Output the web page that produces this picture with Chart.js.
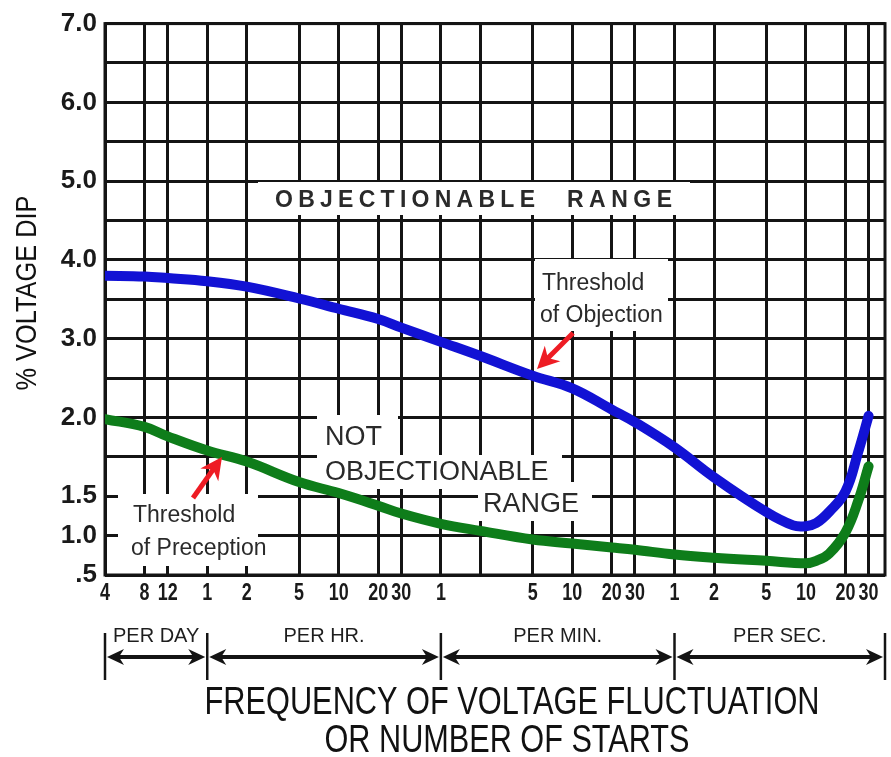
<!DOCTYPE html>
<html>
<head>
<meta charset="utf-8">
<script src="https://cdn.jsdelivr.net/npm/chart.js@4.4.0/dist/chart.umd.min.js"></script>
<style>
html,body{margin:0;padding:0;background:#fff;}
canvas{display:block;}
</style>
</head>
<body>
<canvas id="chart" width="891" height="757"></canvas>
<script>
// x values are starts per hour (4 per day = 1/6 per hour ... 30 per second = 108000 per hour)
const freqTicks = [1/6, 1/3, 0.5, 1, 2, 5, 10, 20, 30, 60, 120, 300, 600, 1200, 1800, 3600, 7200, 18000, 36000, 72000, 108000];
const freqLabels = ["4", "8", "12", "1", "2", "5", "10", "20", "30", "1", "", "5", "10", "20", "30", "1", "2", "5", "10", "20", "30"];
const periodNames = ["PER DAY", "PER HR.", "PER MIN.", "PER SEC."];
const periodBounds = [1/6, 1, 60, 3600, 144000];

const dipTicks = [0.5, 1.0, 1.5, 1.75, 2.0, 2.5, 3.0, 3.5, 4.0, 4.5, 5.0, 5.5, 6.0, 6.5, 7.0];
const dipLabels = [".5", "1.0", "1.5", "", "2.0", "", "3.0", "", "4.0", "", "5.0", "", "6.0", "", "7.0"];

// threshold of objection (blue)
const objectionX = [1/6, 1/3, 0.5, 1, 2, 5, 10, 20, 30, 60, 120, 300, 600, 1200, 1800, 3600, 7200, 18000, 28800, 36000, 43200, 54000, 72000, 90000, 108000];
const objectionY = [3.80, 3.79, 3.77, 3.73, 3.66, 3.51, 3.38, 3.25, 3.14, 2.96, 2.78, 2.53, 2.37, 2.10, 1.97, 1.81, 1.62, 1.30, 1.13, 1.12, 1.16, 1.30, 1.53, 1.78, 2.02];

// threshold of perception (green)
const perceptionX = [1/6, 1/3, 0.5, 1, 2, 5, 10, 20, 30, 60, 120, 300, 600, 1200, 1800, 3600, 7200, 18000, 36000, 43200, 54000, 72000, 90000, 108000];
const perceptionY = [1.99, 1.94, 1.88, 1.79, 1.72, 1.59, 1.52, 1.38, 1.28, 1.15, 1.06, 0.95, 0.90, 0.85, 0.82, 0.76, 0.72, 0.68, 0.65, 0.68, 0.77, 1.04, 1.44, 1.69];

const FONT = "'Liberation Sans', Arial, sans-serif";

// the % axis is stretched: .5 -> 1.5 at one grid step per 0.5, 1.5 -> 2.0 at two steps, then one step per 0.5
const dipBreaks = [0.5, 1.0, 1.5, 2.0, 7.0];
const gridBreaks = [0, 1, 2, 4, 14];
function mapPiece(v, from, to) {
  let i = 1;
  while (i < from.length - 1 && v > from[i]) i++;
  const t = (v - from[i - 1]) / (from[i] - from[i - 1]);
  return to[i - 1] + t * (to[i] - to[i - 1]);
}
const dipToGrid = v => mapPiece(v, dipBreaks, gridBreaks);
const gridToDip = g => mapPiece(g, gridBreaks, dipBreaks);

class DipScale extends Chart.LinearScale {
  buildTicks() { return dipTicks.map(v => ({value: v})); }
  getPixelForValue(v) {
    const lo = dipToGrid(this.min), hi = dipToGrid(this.max);
    return this.getPixelForDecimal((dipToGrid(v) - lo) / (hi - lo));
  }
  getValueForPixel(p) {
    const lo = dipToGrid(this.min), hi = dipToGrid(this.max);
    return gridToDip(lo + this.getDecimalForPixel(p) * (hi - lo));
  }
}
DipScale.id = "dip";
Chart.register(DipScale);

function text(ctx, str, x, y, size, o = {}) {
  ctx.save();
  ctx.font = (o.weight || "normal") + " " + size + "px " + FONT;
  ctx.fillStyle = o.color || "#2a2a2a";
  ctx.textAlign = "left";
  ctx.textBaseline = o.baseline || "alphabetic";
  const w = ctx.measureText(str).width;
  const sx = o.width ? o.width / w : (o.sx || 1);
  ctx.translate(x, y);
  if (o.rotate) ctx.rotate(o.rotate);
  ctx.scale(sx, 1);
  const left = o.align === "center" ? -w / 2 : 0;
  ctx.fillText(str, left, 0);
  ctx.restore();
}

function spaced(ctx, str, x0, x1, y, size, weight) {
  ctx.save();
  ctx.font = weight + " " + size + "px " + FONT;
  ctx.fillStyle = "#2a2a2a";
  const ws = [...str].map(c => ctx.measureText(c).width);
  const total = ws.reduce((a, b) => a + b, 0);
  const gap = (x1 - x0 - total) / (str.length - 1);
  let x = x0;
  [...str].forEach((c, i) => { ctx.fillText(c, x, y); x += ws[i] + gap; });
  ctx.restore();
}

function arrowHead(ctx, tx, ty, ang, len, half) {
  ctx.save();
  ctx.translate(tx, ty);
  ctx.rotate(ang);
  ctx.beginPath();
  ctx.moveTo(0, 0);
  ctx.lineTo(len, -half);
  ctx.lineTo(len * 0.7, 0);
  ctx.lineTo(len, half);
  ctx.closePath();
  ctx.fill();
  ctx.restore();
}

function pointer(ctx, x0, y0, x1, y1) {
  const ang = Math.atan2(y0 - y1, x0 - x1);
  ctx.save();
  ctx.strokeStyle = ctx.fillStyle = "#ee1c24";
  ctx.lineWidth = 5;
  ctx.beginPath();
  ctx.moveTo(x0, y0);
  ctx.lineTo(x1 + Math.cos(ang) * 12, y1 + Math.sin(ang) * 12);
  ctx.stroke();
  arrowHead(ctx, x1, y1, ang, 22, 11);
  ctx.restore();
}

const decorations = {
  id: "decorations",
  beforeDatasetsDraw(chart) {
    const ctx = chart.ctx;
    const a = chart.chartArea;
    ctx.save();
    ctx.fillStyle = "#fff";
    [[258, 182, 432, 33], [535, 259, 133, 72],
     [317, 415, 81, 74], [317, 455, 245, 34], [478, 482, 114, 39],
     [118, 494, 140, 72], [118, 537, 172, 29]].forEach(r => ctx.fillRect(r[0], r[1], r[2], r[3]));
    ctx.restore();

    spaced(ctx, "OBJECTIONABLE", 275, 535, 207, 23, "bold");
    spaced(ctx, "RANGE", 567, 672, 207, 23, "bold");
    text(ctx, "Threshold", 542, 290, 23);
    text(ctx, "of Objection", 540, 322, 23);
    text(ctx, "NOT", 325, 445, 27);
    text(ctx, "OBJECTIONABLE", 325, 480, 27);
    text(ctx, "RANGE", 483, 512, 27);
    text(ctx, "Threshold", 133, 522, 23);
    text(ctx, "of Preception", 131, 555, 23);

    ctx.save();
    ctx.strokeStyle = "#141414";
    ctx.lineWidth = 3;
    ctx.strokeRect(a.left, a.top, a.right - a.left, a.bottom - a.top);
    ctx.restore();
  },
  afterDatasetsDraw(chart) {
    const ctx = chart.ctx;
    pointer(ctx, 573, 333, 537, 369);
    pointer(ctx, 193, 498, 222, 457);
  },
  afterDraw(chart) {
    const ctx = chart.ctx;
    const x = chart.scales.x;

    // frequency tick labels, condensed like the original lettering
    x.ticks.forEach((t, i) => {
      text(ctx, freqLabels[i], x.getPixelForTick(i), 600, 23, {align: "center", weight: "bold", sx: 0.78, color: "#1a1a1a"});
    });

    const b = periodBounds.map(v => x.getPixelForValue(v));
    const ya = 657;
    ctx.save();
    ctx.strokeStyle = ctx.fillStyle = "#141414";
    ctx.lineWidth = 2.5;
    b.forEach(px => { ctx.beginPath(); ctx.moveTo(px, 633); ctx.lineTo(px, 680); ctx.stroke(); });
    ctx.lineWidth = 4;
    for (let i = 0; i < periodNames.length; i++) {
      const l = b[i] + 2, r = b[i + 1] - 2;
      ctx.beginPath(); ctx.moveTo(l + 8, ya); ctx.lineTo(r - 8, ya); ctx.stroke();
      arrowHead(ctx, l, ya, 0, 17, 8);
      arrowHead(ctx, r, ya, Math.PI, 17, 8);
      text(ctx, periodNames[i], (b[i] + b[i + 1]) / 2, 642, 20, {align: "center", color: "#1e1e1e"});
    }
    ctx.restore();

    text(ctx, "FREQUENCY OF VOLTAGE FLUCTUATION", 512, 714, 38, {align: "center", width: 615, color: "#111"});
    text(ctx, "OR NUMBER OF STARTS", 507, 752, 38, {align: "center", width: 365, color: "#111"});
    text(ctx, "% VOLTAGE DIP", 28, 293, 30, {align: "center", width: 195, baseline: "middle", rotate: -Math.PI / 2, color: "#111"});
  }
};

const gridStyle = {color: "#141414", lineWidth: 3, drawTicks: false};

new Chart(document.getElementById("chart"), {
  type: "line",
  data: {
    datasets: [
      {
        label: "Threshold of Perception",
        data: perceptionX.map((v, i) => ({x: v, y: perceptionY[i]})),
        borderColor: "#0e7d1a",
        borderWidth: 10,
        clip: 0
      },
      {
        label: "Threshold of Objection",
        data: objectionX.map((v, i) => ({x: v, y: objectionY[i]})),
        borderColor: "#1212d4",
        borderWidth: 10,
        clip: 0
      }
    ]
  },
  options: {
    responsive: false,
    animation: false,
    events: [],
    layout: {padding: {top: 20, right: 6, left: 0, bottom: 0}},
    elements: {
      point: {radius: 0},
      line: {tension: 0.4, borderCapStyle: "round", borderJoinStyle: "round"}
    },
    plugins: {legend: {display: false}, tooltip: {enabled: false}},
    scales: {
      x: {
        type: "logarithmic",
        min: 1/6,
        max: 144000,
        afterBuildTicks: s => { s.ticks = freqTicks.map(v => ({value: v})); },
        afterFit: s => { s.height = 182; },
        grid: gridStyle,
        border: {display: false},
        ticks: {display: false, autoSkip: false, callback: (v, i) => freqLabels[i]}
      },
      y: {
        type: "dip",
        min: 0.5,
        max: 7,
        afterFit: s => { s.width = 105; },
        grid: gridStyle,
        border: {display: false},
        ticks: {
          padding: 8, color: "#1a1a1a",
          font: {family: FONT, size: 26, weight: "bold"},
          callback: (v, i) => dipLabels[i]
        }
      }
    }
  },
  plugins: [decorations]
});
</script>
</body>
</html>
